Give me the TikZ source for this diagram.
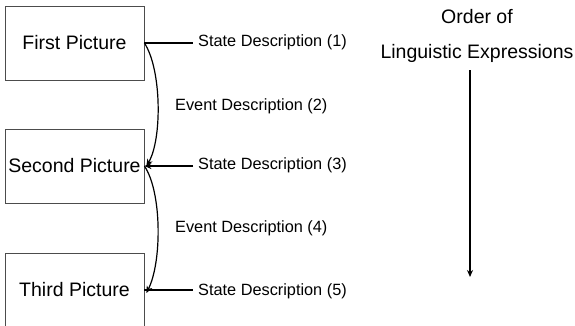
\documentclass[tikz,border=0pt]{standalone}
\usepackage{fontspec}
\setmainfont{Liberation Sans}
\usetikzlibrary{arrows.meta}
\begin{document}
\begin{tikzpicture}[x=1pt,y=-1pt,
  picbox/.style={draw=black!70,line width=0.8pt,minimum width=139pt,minimum height=74pt,inner sep=0pt,font=\fontsize{19.5}{22}\selectfont},
  desc/.style={anchor=west,inner xsep=5pt,inner ysep=0pt,font=\fontsize{16.3}{19}\selectfont},
  bigtext/.style={font=\fontsize{19.5}{22}\selectfont},
  conn/.style={line width=1.2pt},
  arr/.style={line width=1.2pt,-{Stealth[length=7pt,width=6pt]}}]
\useasboundingbox (0,0) rectangle (575,325);
\node[picbox] (b1) at (74.5,43) {First Picture};
\node[picbox] (b2) at (74.5,166) {Second Picture};
\node[picbox] (b3) at (74.5,290) {Third Picture};
\node[desc] (t1) at (193,42) {State Description (1)};
\node[desc] (t3) at (193,165) {State Description (3)};
\node[desc] (t5) at (193,291) {State Description (5)};
\node[desc] (e2) at (170,106) {Event Description (2)};
\node[desc] (e4) at (170,228) {Event Description (4)};
\draw[conn] (b1.east) -- (b1.east -| t1.west);
\draw[arr] (b2.east -| t3.west) -- (b2.east);
\draw[conn] (b3.east) -- (b3.east -| t5.west);
\draw[arr] (b1.east) .. controls (162,70) and (162,140) .. ([xshift=2pt]b2.east);
\draw[arr] (b2.east) .. controls (162,192) and (162,262) .. ([xshift=2pt,yshift=-3pt]b3.east);
\node[bigtext] (o1) at (477,17) {Order of};
\node[bigtext] (o2) at (477,53) {Linguistic Expressions};
\coordinate (ostart) at (470,70);
\coordinate (oend) at (470,277);
\draw[line width=1.2pt,-{Stealth[length=7pt,width=6pt]}] (ostart) -- (oend);
\end{tikzpicture}
\end{document}
